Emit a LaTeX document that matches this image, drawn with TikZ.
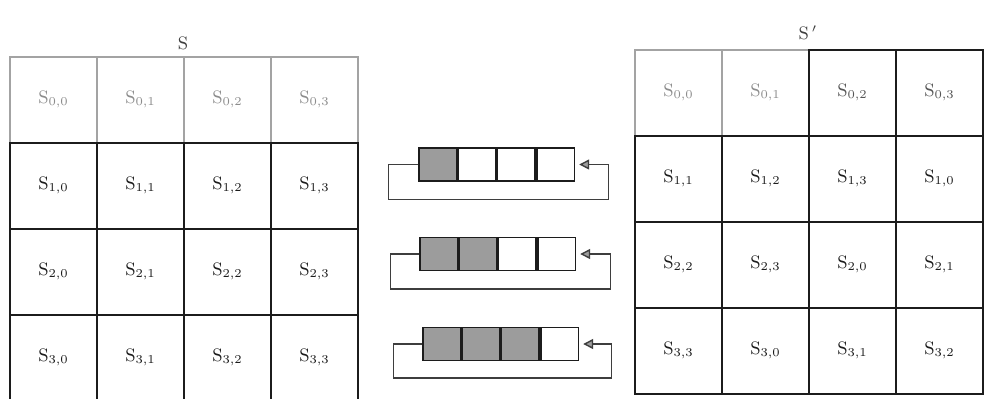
\documentclass[tikz,border=0pt]{standalone}
\usepackage{tikz}
\usetikzlibrary{arrows.meta,positioning,calc}
\definecolor{ink}{HTML}{1C1C1C}
\definecolor{faint}{HTML}{8C8C8C}
\definecolor{shade}{HTML}{9C9C9C}
\tikzset{
  cell/.style={draw=ink,line width=0.9pt,minimum width=43.5pt,minimum height=43pt,
    inner sep=0pt,font=\small,text=ink},
  cellhd/.style={cell,draw=faint!80,text=faint},
  cellmid/.style={cell,text=ink!75},
  qcell/.style={draw=ink,line width=0.8pt,fill=white,minimum width=18.8pt,
    minimum height=16.5pt,inner sep=0pt},
  qfull/.style={qcell,fill=shade},
  loopline/.style={draw=ink!85,line width=0.7pt},
  feed/.style={loopline,-{Triangle[length=5pt,width=5pt,fill=shade]}},
  title/.style={font=\small,text=ink!85},
}
\begin{document}
\begin{tikzpicture}[x=0.5pt,y=-0.5pt]
  \useasboundingbox[fill=white] (0,0) rectangle (984,398);
  \clip (0,0) rectangle (984,398);

  % --- state S ---
  \node[title] (Slab) at (183,43) {S};
  \foreach \c in {0,...,3}
    \node[cellhd] (L0\c) at (53.5+87*\c,100) {$\mathrm{S}_{0,\c}$};
  \foreach \r in {1,...,3}
    \foreach \c in {0,...,3}
      \node[cell] (L\r\c) at (53.5+87*\c,100+86*\r) {$\mathrm{S}_{\r,\c}$};

  % --- state S' (row r rotated left by r) ---
  \node[title] (Tlab) at (808,33) {S\,$^{\prime}$};
  \foreach \c in {0,1}
    \node[cellhd] (R0\c) at (678.5+87*\c,93) {$\mathrm{S}_{0,\c}$};
  \foreach \c in {2,3}
    \node[cellmid] (R0\c) at (678.5+87*\c,93) {$\mathrm{S}_{0,\c}$};
  \foreach \r in {1,...,3}
    \foreach \c in {0,...,3}{
      \pgfmathtruncatemacro{\k}{mod(\c+\r,4)}
      \node[cell] (R\r\c) at (678.5+87*\c,93+86*\r) {$\mathrm{S}_{\r,\k}$};
    }

  % --- shift registers ---
  \node[qfull] (a1) at (438,164.5) {};
  \node[qcell,right=0pt of a1] (a2) {};
  \node[qcell,right=0pt of a2] (a3) {};
  \node[qcell,right=0pt of a3] (a4) {};
  \coordinate (aturn) at ($(a4.east)+(33,0)$);
  \draw[feed] (a1.west) -- ++(-30,0) |- ($(aturn)+(0,35)$) -- (aturn)
    -- ([xshift=2pt]a4.east);

  \node[qfull] (b1) at (439,254) {};
  \node[qfull,right=0pt of b1] (b2) {};
  \node[qcell,right=0pt of b2] (b3) {};
  \node[qcell,right=0pt of b3] (b4) {};
  \coordinate (bturn) at ($(b4.east)+(34,0)$);
  \draw[feed] (b1.west) -- ++(-29,0) |- ($(bturn)+(0,35)$) -- (bturn)
    -- ([xshift=2pt]b4.east);

  \node[qfull] (c1) at (442,344) {};
  \node[qfull,right=0pt of c1] (c2) {};
  \node[qfull,right=0pt of c2] (c3) {};
  \node[qcell,right=0pt of c3] (c4) {};
  \coordinate (cturn) at ($(c4.east)+(32,0)$);
  \draw[feed] (c1.west) -- ++(-29,0) |- ($(cturn)+(0,34)$) -- (cturn)
    -- ([xshift=2pt]c4.east);
\end{tikzpicture}
\end{document}
